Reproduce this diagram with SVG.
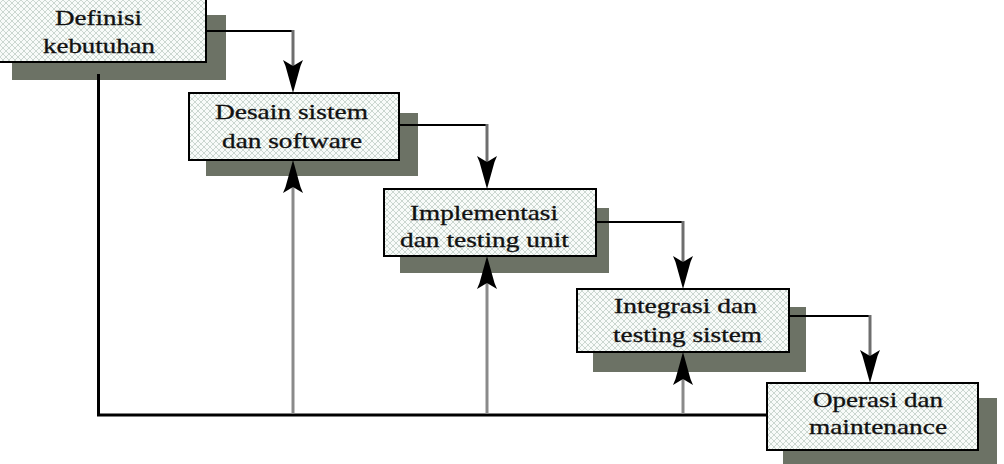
<svg xmlns="http://www.w3.org/2000/svg" width="1004" height="464" viewBox="0 0 1004 464">
<defs>
<pattern id="mesh" width="6" height="6" patternUnits="userSpaceOnUse">
<rect width="6" height="6" fill="#f8fbf9"/>
<path d="M0,3 L3,0 L6,3 L3,6 Z" fill="none" stroke="#c6d3cc" stroke-width="0.9"/>
</pattern>
<path id="ah" d="M0,0 L-7.5,-27 L-10,-33 L0,-27 L10,-33 L7.5,-27 Z" fill="#000"/>
</defs>
<style>
.shadow{fill:#6c7265}
.box{fill:url(#mesh);stroke:#000;stroke-width:2}
.lbl{font-family:"Liberation Serif","Times New Roman",serif;font-size:21px;fill:#111;stroke:#111;stroke-width:0.3;text-anchor:middle}
.blk{fill:none;stroke:#000;stroke-width:2}
.blk3{fill:none;stroke:#000;stroke-width:3}
.gry{fill:none;stroke:#6e6e6e;stroke-width:3}
.up{fill:none;stroke:#8a8a8a;stroke-width:3}
</style>
<rect width="1004" height="464" fill="#fff"/>
<g id="node-definisi">
<rect class="shadow" x="12" y="15" width="214" height="65"/>
<rect class="box" x="-3" y="-6" width="209" height="68"/>
<text class="lbl" x="98.5" y="25" textLength="87" lengthAdjust="spacingAndGlyphs">Definisi</text>
<text class="lbl" x="99" y="53" textLength="112" lengthAdjust="spacingAndGlyphs">kebutuhan</text>
</g>
<g id="node-desain">
<rect class="shadow" x="206" y="113" width="212" height="63"/>
<rect class="box" x="189" y="93" width="210" height="67"/>
<text class="lbl" x="291.5" y="119" textLength="153" lengthAdjust="spacingAndGlyphs">Desain sistem</text>
<text class="lbl" x="292" y="147.5" textLength="140" lengthAdjust="spacingAndGlyphs">dan software</text>
</g>
<g id="node-implementasi">
<rect class="shadow" x="400" y="208" width="209" height="65"/>
<rect class="box" x="384" y="189" width="212" height="67"/>
<text class="lbl" x="484" y="220" textLength="148" lengthAdjust="spacingAndGlyphs">Implementasi</text>
<text class="lbl" x="484.5" y="247" textLength="169" lengthAdjust="spacingAndGlyphs">dan testing unit</text>
</g>
<g id="node-integrasi">
<rect class="shadow" x="593" y="307" width="213" height="65"/>
<rect class="box" x="577" y="289" width="212" height="63"/>
<text class="lbl" x="685.5" y="313" textLength="143" lengthAdjust="spacingAndGlyphs">Integrasi dan</text>
<text class="lbl" x="687.5" y="342" textLength="149" lengthAdjust="spacingAndGlyphs">testing sistem</text>
</g>
<g id="node-operasi">
<rect class="shadow" x="783" y="398" width="214" height="70"/>
<rect class="box" x="767" y="383" width="211" height="67"/>
<text class="lbl" x="878" y="407" textLength="130" lengthAdjust="spacingAndGlyphs">Operasi dan</text>
<text class="lbl" x="878" y="434" textLength="138" lengthAdjust="spacingAndGlyphs">maintenance</text>
</g>
<g id="connectors">
<path class="blk" d="M206,31 H293"/>
<path class="gry" d="M293,30 V66"/>
<use href="#ah" x="293" y="93"/>
<path class="blk" d="M399,125 H487"/>
<path class="gry" d="M487,124 V162"/>
<use href="#ah" x="487" y="189"/>
<path class="blk" d="M596,222 H683"/>
<path class="gry" d="M683,221 V262"/>
<use href="#ah" x="683" y="289"/>
<path class="blk" d="M789,316 H870"/>
<path class="gry" d="M870,315 V356"/>
<use href="#ah" x="870" y="383"/>
<path class="blk3" d="M98.5,74 V415 H767"/>
<path class="up" d="M293,414 V187"/>
<use href="#ah" transform="translate(293,160) scale(1,-1)"/>
<path class="up" d="M487,414 V283"/>
<use href="#ah" transform="translate(487,256) scale(1,-1)"/>
<path class="up" d="M683,414 V379"/>
<use href="#ah" transform="translate(683,352) scale(1,-1)"/>
</g>
</svg>
